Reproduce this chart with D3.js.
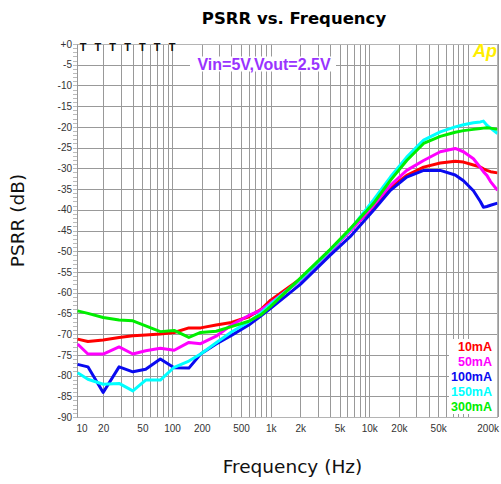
<!DOCTYPE html>
<html>
<head>
<meta charset="utf-8">
<script src="https://cdn.jsdelivr.net/npm/d3@7"></script>
<style>
	body { margin: 0; background: #fff; }
	svg { display: block; }
</style>
</head>
<body>
<svg id="chart"></svg>
<script>
// frequencies (Hz) shared by every trace
const freqs = [11, 14, 20, 29, 40, 54, 76, 105, 148, 195, 280, 400, 600, 800, 1000, 2000, 4000, 6400,
	11000, 16400, 24000, 35600, 52500, 74500, 90400, 114000, 134000, 144000, 156000, 170000, 200000];

// PSRR (dB) per load current
const psrr10mA = [-71.2, -71.8, -71.4, -70.8, -70.4, -70.2, -70.0, -69.6, -68.5, -68.5, -67.8, -67.2, -65.8, -64.0, -61.8,
	-56.7, -50.0, -45.0, -39.3, -34.7, -31.7, -29.7, -28.7, -28.3, -28.5, -29.2, -29.7, -30.1, -30.5, -30.8, -31.1];
const psrr50mA = [-72.4, -74.8, -74.8, -73.1, -74.8, -74.0, -73.4, -73.9, -72.0, -72.3, -70.5, -67.8, -65.5, -64.2, -62.5,
	-57.0, -50.0, -45.2, -39.0, -34.1, -30.5, -28.1, -26.0, -25.2, -26.0, -27.7, -29.8, -30.8, -31.7, -33.2, -35.3];
const psrr100mA = [-77.3, -77.9, -84.1, -77.9, -79.1, -78.5, -76.0, -78.1, -78.2, -74.8, -72.4, -70.3, -67.8, -65.6, -63.8,
	-58.0, -51.0, -46.5, -40.2, -35.3, -32.1, -30.5, -30.5, -31.6, -33.0, -35.4, -38.0, -39.4, -39.2, -38.9, -38.4];
const psrr150mA = [-79.3, -80.9, -82.1, -81.9, -83.7, -81.1, -81.1, -78.0, -76.5, -74.8, -72.1, -69.5, -67.0, -64.9, -62.8,
	-56.8, -49.8, -44.8, -37.7, -32.1, -27.3, -23.2, -21.2, -20.0, -19.5, -19.0, -18.8, -18.6, -19.6, -20.3, -21.6];
const psrr300mA = [-64.4, -65.0, -66.0, -66.6, -66.8, -68.0, -69.4, -69.1, -70.8, -69.6, -69.3, -68.2, -66.9, -65.3, -63.3,
	-56.5, -49.6, -44.6, -38.5, -32.9, -28.1, -24.0, -22.3, -21.3, -20.9, -20.6, -20.4, -20.3, -20.2, -20.3, -20.6];

const seriesNames = ["10mA", "50mA", "100mA", "150mA", "300mA"];
const seriesValues = [psrr10mA, psrr50mA, psrr100mA, psrr150mA, psrr300mA];
const seriesColors = ["#ff0000", "#ff00ff", "#0a0af0", "#00ffff", "#00ee00"];

const yTickValues = d3.range(0, -95, -5);
const xTickValues = [10, 20, 50, 100, 200, 500, 1000, 2000, 5000, 10000, 20000, 50000, 200000];
const xTickLabels = ["10", "20", "50", "100", "200", "500", "1k", "2k", "5k", "10k", "20k", "50k", "200k"];
// the "T" markers along the top edge
const tMarkFreqs = [12.5, 17.7, 25, 35.4, 50, 70.7, 100];

function drawChart() {
	const width = 501;
	const height = 484;
	const left = 77, right = 497.5, top = 44, bottom = 417;

	const xScale = d3.scaleLog()
		.domain([10, 200000])
		.range([73.5, 497.5]);

	const yScale = d3.scaleLinear()
		.domain([0, -90])
		.range([top, bottom]);

	const svg = d3.select("#chart")
		.attr("width", width)
		.attr("height", height)
		.style("font-family", "'Liberation Sans', Arial, sans-serif");

	svg.append("rect")
		.attr("width", width)
		.attr("height", height)
		.attr("fill", "#fff");

	// vertical grid, 1..9 per decade
	let gridFreqs = [];
	[10, 100, 1000, 10000, 100000].forEach((dec) => {
		for (let m = 1; m <= 9; m++) {
			let f = dec * m;
			if (f > 11 && f <= 200000) gridFreqs.push(f);
		}
	});
	gridFreqs.push(200000);

	svg.append("g")
		.attr("transform", `translate(0, ${bottom})`)
		.call(d3.axisBottom(xScale)
			.tickValues(gridFreqs)
			.tickSize(-(bottom - top))
			.tickSizeOuter(0)
			.tickFormat(""))
		.call((g) => g.select(".domain").remove())
		.selectAll("line")
			.attr("stroke", "#999")
			.attr("shape-rendering", "crispEdges");

	// horizontal grid every 5 dB
	svg.append("g")
		.attr("transform", `translate(${left}, 0)`)
		.call(d3.axisLeft(yScale)
			.tickValues(yTickValues)
			.tickSize(-(right - left))
			.tickSizeOuter(0)
			.tickFormat(""))
		.call((g) => g.select(".domain").remove())
		.selectAll("line")
			.attr("stroke", "#999")
			.attr("shape-rendering", "crispEdges");

	// frame
	svg.append("rect")
		.attr("x", left)
		.attr("y", top)
		.attr("width", right - left)
		.attr("height", bottom - top)
		.attr("fill", "none")
		.attr("stroke", "#b4b4b4")
		.attr("shape-rendering", "crispEdges");

	// minor ticks every dB on the left
	svg.append("g")
		.attr("transform", `translate(${left}, 0)`)
		.call(d3.axisLeft(yScale)
			.tickValues(d3.range(0, -91, -1))
			.tickSize(4)
			.tickSizeOuter(0)
			.tickFormat(""))
		.call((g) => g.select(".domain").attr("stroke", "#999"))
		.selectAll("line")
			.attr("stroke", "#bbb")
			.attr("shape-rendering", "crispEdges");

	// y tick labels
	svg.append("g")
		.attr("transform", `translate(${left}, 0)`)
		.call(d3.axisLeft(yScale)
			.tickValues(yTickValues)
			.tickSize(0)
			.tickPadding(5)
			.tickFormat((d) => d === 0 ? "+0" : d))
		.call((g) => g.select(".domain").remove())
		.selectAll("text")
			.style("font-size", "10px")
			.attr("fill", "#333");

	// x tick labels
	let xLab = svg.append("g")
		.attr("transform", `translate(0, ${bottom})`)
		.call(d3.axisBottom(xScale)
			.tickValues(xTickValues)
			.tickSize(0)
			.tickPadding(8)
			.tickFormat((d, i) => xTickLabels[i]))
		.call((g) => g.select(".domain").remove());
	xLab.selectAll("text")
		.style("font-size", "10px")
		.attr("fill", "#333");
	xLab.selectAll(".tick").filter((d) => d === 10)
		.select("text").attr("text-anchor", "start").attr("x", 2.5);
	xLab.selectAll(".tick").filter((d) => d === 200000)
		.select("text").attr("text-anchor", "end").attr("x", 1);

	// white boxes behind annotations
	svg.append("rect")
		.attr("x", 190).attr("y", 56.5)
		.attr("width", 146).attr("height", 15)
		.attr("fill", "#fff");
	svg.append("rect")
		.attr("x", 449).attr("y", 339)
		.attr("width", 48).attr("height", 75)
		.attr("fill", "#fff");

	// T markers
	svg.selectAll(".tmark")
		.data(tMarkFreqs)
		.enter()
		.append("text")
			.classed("tmark", true)
			.attr("x", (d) => xScale(d))
			.attr("y", 51)
			.attr("text-anchor", "middle")
			.style("font-size", "11px")
			.style("font-weight", "bold")
			.attr("fill", "#111")
			.text("T");

	svg.append("defs")
		.append("clipPath")
			.attr("id", "plotClip")
		.append("rect")
			.attr("x", left)
			.attr("y", top)
			.attr("width", right - left)
			.attr("height", bottom - top);

	const line = d3.line()
		.x((d, i) => xScale(freqs[i]))
		.y((d) => yScale(d));

	svg.append("g")
		.attr("clip-path", "url(#plotClip)")
		.selectAll("path")
		.data(seriesValues)
		.enter()
		.append("path")
			.attr("d", (d) => line(d))
			.attr("fill", "none")
			.attr("stroke", (d, i) => seriesColors[i])
			.attr("stroke-width", 3)
			.attr("stroke-linejoin", "round");

	// legend
	svg.selectAll(".legend")
		.data(seriesNames)
		.enter()
		.append("text")
			.classed("legend", true)
			.attr("x", 492)
			.attr("y", (d, i) => 350.5 + 15.2 * i)
			.attr("text-anchor", "end")
			.style("font-size", "12.5px")
			.style("font-weight", "bold")
			.attr("fill", (d, i) => seriesColors[i])
			.text((d) => d);

	svg.append("text")
		.attr("x", 264)
		.attr("y", 69.5)
		.attr("text-anchor", "middle")
		.style("font-size", "16px")
		.style("font-weight", "bold")
		.attr("fill", "#9933ff")
		.text("Vin=5V,Vout=2.5V");

	svg.append("text")
		.attr("x", 485)
		.attr("y", 57)
		.attr("text-anchor", "middle")
		.style("font-size", "18px")
		.style("font-weight", "bold")
		.style("font-style", "italic")
		.attr("fill", "#ffee00")
		.text("Ap");

	// titles
	svg.append("text")
		.attr("x", 294)
		.attr("y", 24)
		.attr("text-anchor", "middle")
		.style("font-family", "'DejaVu Sans', sans-serif")
		.style("font-size", "16.5px")
		.style("font-weight", "bold")
		.attr("fill", "#000")
		.text("PSRR vs. Frequency");

	svg.append("text")
		.attr("x", 292.5)
		.attr("y", 473)
		.attr("text-anchor", "middle")
		.style("font-family", "'DejaVu Sans', sans-serif")
		.style("font-size", "18.5px")
		.attr("fill", "#111")
		.text("Frequency (Hz)");

	svg.append("text")
		.attr("transform", "rotate(-90)")
		.attr("x", -220.5)
		.attr("y", 24)
		.attr("text-anchor", "middle")
		.style("font-family", "'DejaVu Sans', sans-serif")
		.style("font-size", "18.5px")
		.attr("fill", "#111")
		.text("PSRR (dB)");
}

document.addEventListener("DOMContentLoaded", drawChart);
</script>
</body>
</html>
